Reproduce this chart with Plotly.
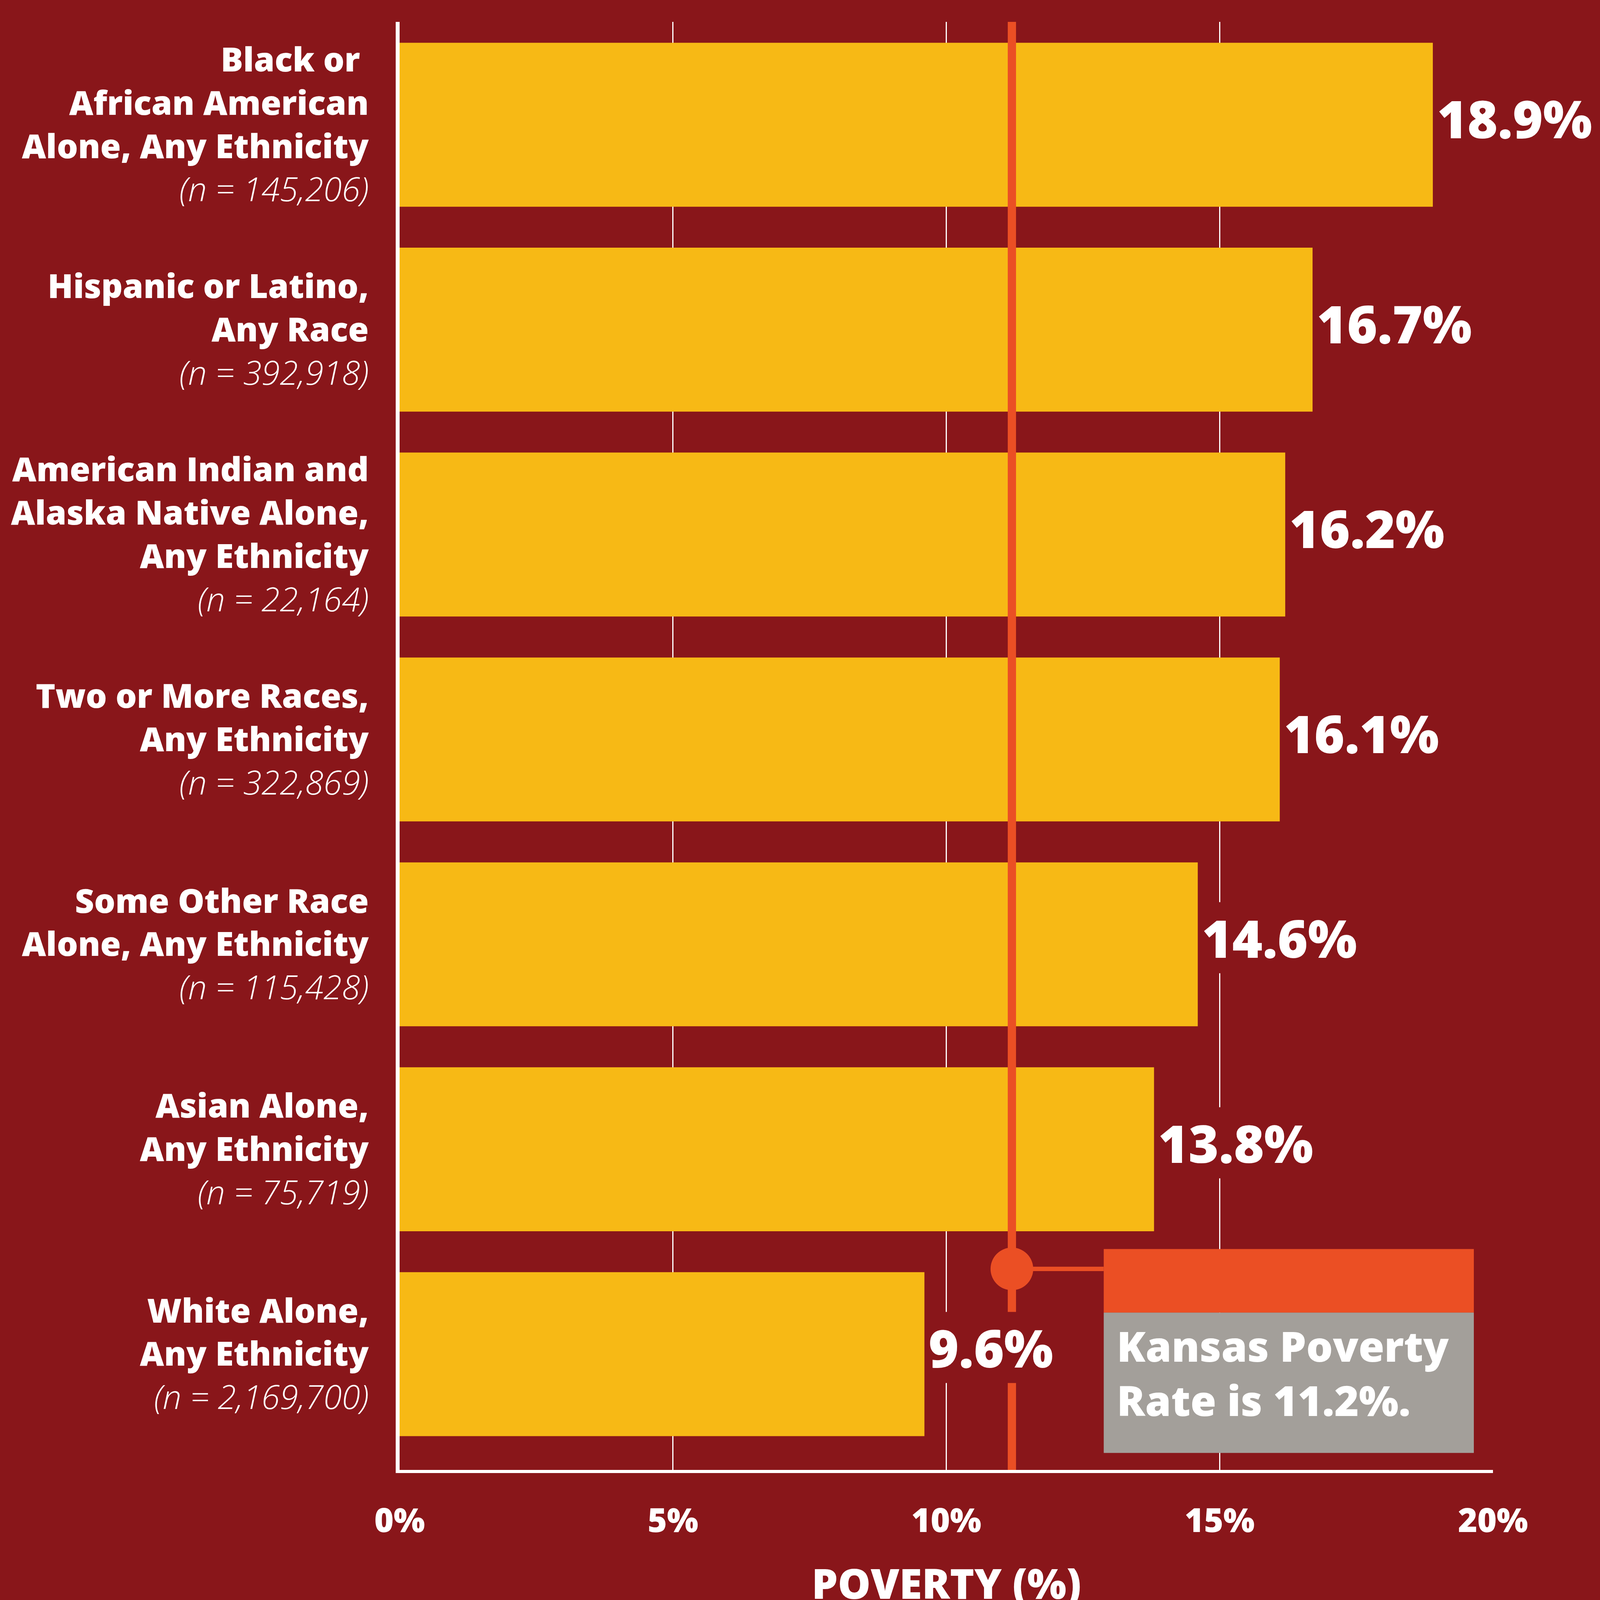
import plotly.graph_objects as go

# ---------------- data ----------------
label_lines = [
    ["Black or&nbsp;", "African American", "Alone, Any Ethnicity"],
    ["Hispanic or Latino,", "Any Race"],
    ["American Indian and", "Alaska Native Alone,", "Any Ethnicity"],
    ["Two or More Races,", "Any Ethnicity"],
    ["Some Other Race", "Alone, Any Ethnicity"],
    ["Asian Alone,", "Any Ethnicity"],
    ["White Alone,", "Any Ethnicity"],
]
sample_sizes = ["145,206", "392,918", "22,164", "322,869", "115,428", "75,719", "2,169,700"]
poverty_pct = [18.9, 16.7, 16.2, 16.1, 14.6, 13.8, 9.6]
kansas_rate = 11.2
x_ticks = [0, 5, 10, 15, 20]
x_ticklabels = ["0%", "5%", "10%", "15%", "20%"]
x_title = "POVERTY (%)"

# ---------------- styles ----------------
BG = "#89161A"
YELLOW = "#F7B915"
ORANGE = "#EB4F24"
GRAY = "#A39F9A"
WHITE = "#FFFFFF"
FONT = "Open Sans"

# page is photographed in a 4096x4096 viewport; design units are the 5800x5826 reference
W, H = 4096, 4096
SX, SY = W / 5800, H / 5826
SF = (SX + SY) / 2

positions = list(range(len(poverty_pct)))
ticktext = [
    "<br>".join(f"<span style='font-weight:800'>{ln}</span>" for ln in lines)
    + f"<br><span style='font-weight:300;font-style:italic'>(n = {n})</span>"
    for lines, n in zip(label_lines, sample_sizes)
]

fig = go.Figure()
fig.add_trace(go.Bar(
    x=poverty_pct, y=positions, orientation="h", width=0.8,
    marker=dict(color=YELLOW, line=dict(width=0)), hoverinfo="skip",
))

dot_y = 5.584
box_x0, box_x1 = 12.88, 19.65
fig.add_trace(go.Scatter(
    x=[kansas_rate], y=[dot_y], mode="markers",
    marker=dict(size=155 * SF, color=ORANGE, line=dict(width=0)), hoverinfo="skip",
))

shapes = [
    dict(type="line", xref="x", yref="paper", x0=kansas_rate, x1=kansas_rate, y0=0, y1=1,
         line=dict(color=ORANGE, width=30 * SX), layer="above"),
    dict(type="line", xref="x", yref="y", x0=kansas_rate, x1=box_x0, y0=dot_y, y1=dot_y,
         line=dict(color=ORANGE, width=16 * SY), layer="above"),
    dict(type="rect", xref="x", yref="y", x0=box_x0, x1=box_x1, y0=5.487, y1=5.797,
         fillcolor=ORANGE, line=dict(width=0), layer="above"),
    dict(type="rect", xref="x", yref="y", x0=box_x0, x1=box_x1, y0=5.797, y1=6.482,
         fillcolor=GRAY, line=dict(width=0), layer="above"),
]

annotations = []
for v, p in zip(poverty_pct, positions):
    annotations.append(dict(
        x=v, y=p, xref="x", yref="y", xanchor="left", yanchor="middle",
        xshift=14 * SX, yshift=24 * SY,
        text=f"{v:.1f}%", showarrow=False, bgcolor=BG, borderpad=0,
        font=dict(family=FONT, size=188 * SF, color=WHITE, weight=800),
    ))
annotations.append(dict(
    x=box_x0, y=6.09, xref="x", yref="y", xanchor="left", yanchor="middle", xshift=45 * SX,
    align="left", showarrow=False,
    text=f"Kansas Poverty<br>Rate is {kansas_rate}%.",
    font=dict(family=FONT, size=152 * SF, color=WHITE, weight=800),
))
# axis title placed below the tick labels (partly cut by the page edge, as in the reference)
annotations.append(dict(
    x=0.5, y=0, xref="paper", yref="paper", xanchor="center", yanchor="middle",
    yshift=-(5763 - 5352) * SY, showarrow=False, text=x_title,
    font=dict(family=FONT, size=150 * SF, color=WHITE, weight=800),
))

fig.update_layout(
    width=W, height=H,
    margin=dict(l=1449 * SX, r=388 * SX, t=80 * SY, b=474 * SY, pad=0),
    paper_bgcolor=BG, plot_bgcolor=BG,
    showlegend=False, shapes=shapes, annotations=annotations,
    font=dict(family=FONT, color=WHITE),
    xaxis=dict(
        range=[0, 20], tickmode="array", tickvals=x_ticks, ticktext=x_ticklabels,
        showgrid=True, gridcolor=WHITE, gridwidth=4 * SX, zeroline=False,
        showline=True, linecolor=WHITE, linewidth=12 * SY, ticks="",
        tickfont=dict(family=FONT, size=120 * SF, color=WHITE, weight=800),
        ticklabelstandoff=int(round(70 * SY)),
        automargin=False, fixedrange=True,
    ),
    yaxis=dict(
        range=[6.565, -0.502], tickvals=positions, ticktext=ticktext,
        showgrid=False, zeroline=False, showline=True, linecolor=WHITE, linewidth=14 * SX, ticks="",
        tickfont=dict(family=FONT, size=121 * SF, color=WHITE),
        ticklabelstandoff=int(round(74 * SX)), automargin=False, fixedrange=True,
    ),
)

fig.write_html("out.html", config={"displayModeBar": False},
               post_script="document.body.style.margin='0';")
